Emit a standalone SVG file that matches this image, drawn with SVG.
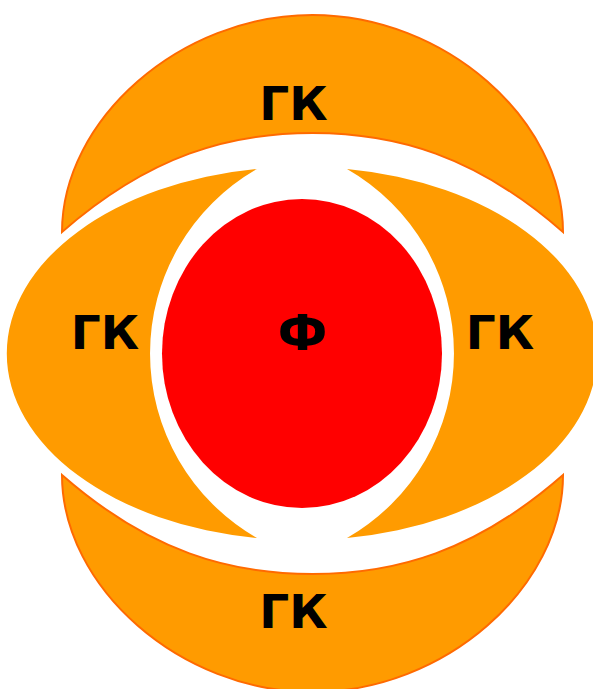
<svg xmlns="http://www.w3.org/2000/svg" width="593" height="689" viewBox="0 0 593 689">
<style>
.cap{fill:#FF9B00;stroke:#FF6A00;stroke-width:2}
.cres{fill:#FF9B00}
.core{fill:#FF0000}
.lbl{font-family:"DejaVu Sans",Verdana,sans-serif;font-weight:bold;font-size:47px;fill:#000;text-anchor:middle}
.big{font-size:50px}
</style>
<rect width="593" height="689" fill="#fff"/>
<g id="cap-top">
<path class="cap" d="M62,232 C62,120 180,15 312.5,15 C445,15 563,120 563,232 C475,155 395,133 312.5,133 C230,133 150,155 62,232 Z"/>
<text class="lbl" x="293.5" y="120">ГК</text>
</g>
<g id="cap-bottom">
<path class="cap" transform="translate(0,707) scale(1,-1)" d="M62,232 C62,120 180,15 312.5,15 C445,15 563,120 563,232 C475,155 395,133 312.5,133 C230,133 150,155 62,232 Z"/>
<text class="lbl" x="293.5" y="628">ГК</text>
</g>
<g id="crescent-left">
<path class="cres" d="M257,169 A293,186.5 0 0 0 257,538 A212.6,212.6 0 0 1 257,169 Z"/>
<text class="lbl" x="105" y="349">ГК</text>
</g>
<g id="crescent-right">
<path class="cres" transform="translate(604,0) scale(-1,1)" d="M257,169 A293,186.5 0 0 0 257,538 A212.6,212.6 0 0 1 257,169 Z"/>
<text class="lbl" x="500" y="349">ГК</text>
</g>
<g id="core">
<ellipse class="core" cx="302" cy="353.5" rx="140" ry="154.5"/>
<text class="lbl big" x="302.5" y="350">Ф</text>
</g>
<g id="connectors"/>
</svg>
